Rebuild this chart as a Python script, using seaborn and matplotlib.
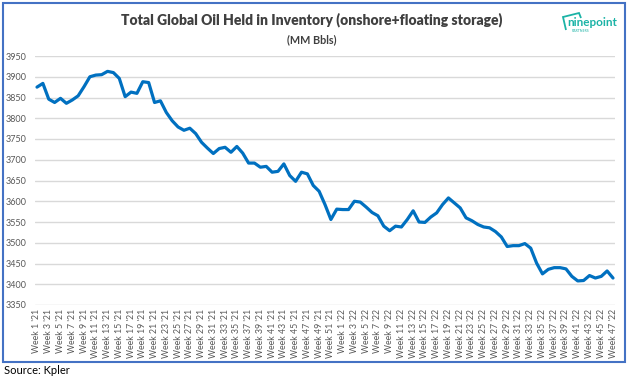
import matplotlib
matplotlib.use("Agg")
import matplotlib.pyplot as plt
import seaborn as sns
import pandas as pd
from matplotlib.patches import Rectangle, Polygon

weeks_2021 = list(range(1, 53))
weeks_2022 = list(range(1, 48))
labels = [f"Week {w} '21" for w in weeks_2021] + [f"Week {w} '22" for w in weeks_2022]

values = [3875, 3884, 3846, 3838, 3848, 3836, 3844, 3854, 3876, 3900,
          3904, 3905, 3913, 3910, 3896, 3852, 3863, 3860, 3888, 3886,
          3838, 3842, 3814, 3794, 3779, 3771, 3776, 3763, 3742, 3728,
          3715, 3727, 3730, 3718, 3732, 3716, 3692, 3692, 3682, 3684,
          3670, 3672, 3690, 3662, 3648, 3670, 3666, 3638, 3624, 3592,
          3556, 3581, 3580, 3580, 3600, 3598, 3586, 3573, 3565, 3540,
          3529, 3540, 3538, 3556, 3577, 3550, 3549, 3562, 3572, 3592,
          3608, 3596, 3584, 3560, 3553, 3544, 3538, 3536, 3527, 3514,
          3491, 3493, 3493, 3498, 3487, 3451, 3425, 3436, 3440, 3440,
          3437, 3419, 3408, 3409, 3421, 3415, 3419, 3432, 3415]

title = "Total Global Oil Held in Inventory (onshore+floating storage)"
subtitle = "(MM Bbls)"
source = "Source: Kpler"
yticks = list(range(3350, 3951, 50))

sns.set_theme(style="white")
plt.rcParams['font.family'] = ['Lato', 'DejaVu Sans']

df = pd.DataFrame({"idx": range(len(values)), "value": values, "week": labels})

fig = plt.figure(figsize=(6.3, 3.79), dpi=100)
ax = fig.add_axes([35/630, 1-305/379, 580/630, 249/379])

sns.lineplot(data=df, x="idx", y="value", ax=ax, color="#0070C0", linewidth=2.3)

ax.set_ylim(3350, 3950)
ax.set_xlim(-0.34, len(values) - 1 + 0.34)
ax.set_yticks(yticks)
ax.set_yticklabels([str(v) for v in yticks], fontsize=6.5, color="#595959")
ax.set_xticks(df["idx"][::2])
ax.set_xticklabels(df["week"][::2], rotation=90, fontsize=6.3, color="#595959")
ax.tick_params(axis="both", length=0, pad=3)
ax.tick_params(axis="y", pad=6)
ax.grid(axis="y", color="#d9d9d9", linewidth=1)
ax.grid(axis="x", visible=False)
for s in ax.spines.values():
    s.set_visible(False)
ax.set_xlabel("")
ax.set_ylabel("")

fig.text(312/630, 1-20/379, title, ha="center", va="center", fontsize=10,
         fontweight="heavy", color="#404040")
fig.text(312/630, 1-40/379, subtitle, ha="center", va="center", fontsize=7.8,
         fontweight="bold", color="#404040")
fig.text(4/630, 1-371/379, source, ha="left", va="center", fontsize=8, color="#000000")

# border
fig.patches.append(Rectangle((3/630, 1-362/379), 622/630, 359/379, transform=fig.transFigure,
                             fill=False, edgecolor="#4472C4", linewidth=1.5))

# logo
teal = "#1BB3A6"
fig.patches.append(Polygon([(566/630, 1-30/379), (563/630, 1-17/379), (579/630, 1-13/379),
                            (581/630, 1-18/379)],
                           closed=False, fill=False, edgecolor=teal, linewidth=1.3,
                           transform=fig.transFigure))
fig.text(592/630, 1-23/379, "ninepoint", ha="center", va="center", fontsize=8.5,
         color=teal, fontweight="bold")
fig.text(580/630, 1-30.5/379, "PARTNERS", ha="center", va="center", fontsize=2.5, color=teal)

fig.savefig("out.png", dpi=100)
